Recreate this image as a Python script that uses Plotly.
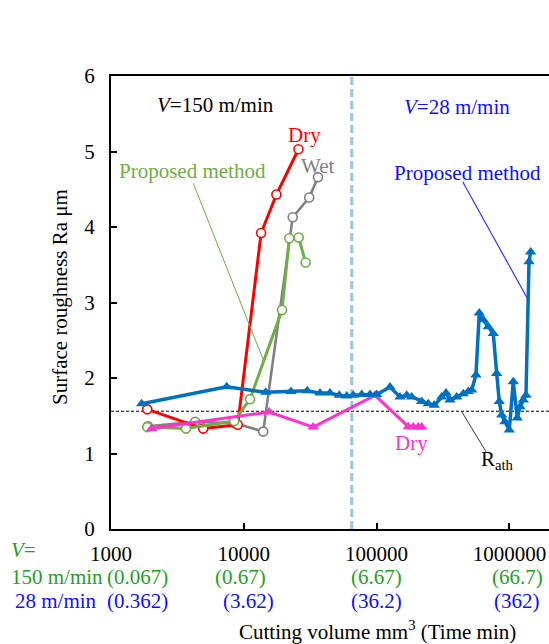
import plotly.graph_objects as go

# ---------------- data ----------------
# V = 150 m/min
dry150_vol = [1875, 4950, 9000, 13500, 17600, 25800]
dry150_ra = [1.585, 1.33, 1.38, 3.92, 4.43, 5.03]

wet150_vol = [1900, 4300, 8600, 14000, 23350, 31100, 36200]
wet150_ra = [1.36, 1.42, 1.40, 1.29, 4.13, 4.39, 4.66]

prop150_vol = [1876, 3670, 8470, 11140, 19400, 22000, 25900, 29200]
prop150_ra = [1.35, 1.33, 1.43, 1.72, 2.90, 3.85, 3.86, 3.53]

# V = 28 m/min
dry28_vol = [2023, 15560, 33300, 97300, 173400, 188700, 205900, 218600]
dry28_ra = [1.33, 1.55, 1.35, 1.77, 1.355, 1.35, 1.35, 1.35]

prop28_vol = [1702, 7430, 14620, 22650, 30060, 37500, 44570, 52360, 59550, 66780,
              77270, 89200, 100100, 126200, 150000, 168500, 183700, 218600, 245000,
              271800, 309000, 333000, 357000, 401000, 449500, 490000, 520000,
              560000, 593000, 635000, 693000, 756000, 802000, 839000, 875000,
              926000, 998000, 1069000, 1146000, 1202000, 1272000, 1333000,
              1405000, 1446000]
prop28_ra = [1.66, 1.885, 1.81, 1.82, 1.83, 1.80, 1.80, 1.77, 1.76, 1.77,
             1.78, 1.78, 1.78, 1.88, 1.75, 1.77, 1.75, 1.69, 1.66,
             1.64, 1.75, 1.80, 1.71, 1.75, 1.79, 1.82, 1.84,
             2.04, 2.86, 2.77, 2.68, 2.59, 2.06, 1.69, 1.51,
             1.42, 1.31, 1.95, 1.47, 1.62, 1.71, 1.77,
             3.54, 3.67]

rath_value = 1.56          # threshold roughness R_ath
boundary_volume = 65000    # separation between the two cutting-speed regions

x_tick_vals = [1000, 10000, 100000, 1000000]
x_tick_text = ["1000", "10000", "100000", "1000000"]
time150_labels = ["(0.067)", "(0.67)", "(6.67)", "(66.7)"]
time28_labels = ["(0.362)", "(3.62)", "(36.2)", "(362)"]
y_tick_vals = [0, 1, 2, 3, 4, 5, 6]

# ---------------- styling ----------------
FONT = "Liberation Serif"
W, H = 549, 644
L, R, T, B = 111, 0, 76, 115
PW, PH = W - L - R, H - T - B

RED = "#FF0000"
GRAY = "#808080"
GREEN = "#70AD47"
PINK = "#FF33CC"
BLUE = "#0070C0"
TXT_BLUE = "#1010FF"
TXT_GREEN = "#1FA01F"


def px(xp):
    return (xp - L) / PW


def py(yp):
    return (H - B - yp) / PH


fig = go.Figure()

def open_circle(c):
    return dict(symbol="circle", size=9, color="white", line=dict(color=c, width=1.6))

fig.add_trace(go.Scatter(x=wet150_vol, y=wet150_ra, mode="lines+markers",
                         line=dict(color=GRAY, width=2.6), marker=open_circle(GRAY)))
fig.add_trace(go.Scatter(x=dry150_vol, y=dry150_ra, mode="lines+markers",
                         line=dict(color=RED, width=3), marker=open_circle(RED)))
fig.add_trace(go.Scatter(x=prop150_vol, y=prop150_ra, mode="lines+markers",
                         line=dict(color=GREEN, width=3), marker=open_circle(GREEN)))
fig.add_trace(go.Scatter(x=dry28_vol, y=dry28_ra, mode="lines+markers",
                         line=dict(color=PINK, width=3),
                         marker=dict(symbol="triangle-up", size=10, color=PINK)))
fig.add_trace(go.Scatter(x=prop28_vol, y=prop28_ra, mode="lines+markers",
                         line=dict(color=BLUE, width=3.5),
                         marker=dict(symbol="triangle-up", size=10, color=BLUE)))

# threshold line and boundary line
fig.add_shape(type="line", xref="paper", yref="y", x0=0, x1=1, y0=rath_value, y1=rath_value,
              line=dict(color="black", width=1, dash="3px,2px"), layer="below")
fig.add_shape(type="line", xref="x", yref="paper", x0=boundary_volume, x1=boundary_volume,
              y0=0, y1=1, line=dict(color="#9DC3E6", width=3, dash="8px,4px"), layer="below")

# leader lines
def leader(x0, y0, x1, y1, color, width=1):
    fig.add_shape(type="line", xref="paper", yref="paper",
                  x0=px(x0), y0=py(y0), x1=px(x1), y1=py(y1),
                  line=dict(color=color, width=width))

leader(193.3, 183.3, 263.3, 360, GREEN, 1)
leader(462.7, 181.7, 527.3, 298.3, "#3333FF", 1.2)
leader(461.7, 411.7, 486, 451.7, "#404040", 1)

annots = []

def text(t, x, y, color="black", size=21, anchor="center", angle=0):
    annots.append(dict(text=t, x=px(x), y=py(y), xref="paper", yref="paper",
                       xanchor=anchor, yanchor="middle", showarrow=False, textangle=angle,
                       font=dict(family=FONT, size=size, color=color)))

text("<i>V</i>=150 m/min", 215, 105)
text("Dry", 304, 135, RED)
text("Wet", 317, 166, GRAY)
text("Proposed method", 192.5, 171, GREEN)
text("<i>V</i>=28 m/min", 456.7, 106.7, TXT_BLUE)
text("Proposed method", 467, 173.3, TXT_BLUE)
text("Dry", 411, 443, PINK)
text("R<sub>ath</sub>", 497, 460)

text("<i>V</i>=", 23, 550, TXT_GREEN)
text("150 m/min", 57, 577, TXT_GREEN)
text("28 m/min", 56, 601, TXT_BLUE)
for lab, xc in zip(time150_labels, [137, 240.7, 376, 517]):
    text(lab, xc, 577, TXT_GREEN)
for lab, xc in zip(time28_labels, [137, 248, 376, 517]):
    text(lab, xc, 601, TXT_BLUE)

text("Cutting volume mm<sup>3</sup> (Time min)", 377, 630)
text("Surface roughness Ra μm", 60, 297, angle=-90)

fig.update_layout(
    width=W, height=H,
    margin=dict(l=L, r=R, t=T, b=B, pad=0),
    paper_bgcolor="white", plot_bgcolor="white",
    showlegend=False,
    font=dict(family=FONT, size=21, color="black"),
    annotations=annots,
    xaxis=dict(type="log", range=[3, 3 + PW / 132.8],
               tickvals=x_tick_vals, ticktext=x_tick_text,
               ticks="inside", ticklen=6, tickwidth=2, tickcolor="black",
               showline=True, linecolor="black", linewidth=2, mirror=True,
               showgrid=False, zeroline=False, ticklabelstandoff=5,
               tickfont=dict(family=FONT, size=21, color="black")),
    yaxis=dict(range=[0, 6], tickvals=y_tick_vals,
               ticks="inside", ticklen=6, tickwidth=2, tickcolor="black",
               showline=True, linecolor="black", linewidth=2,
               showgrid=False, zeroline=False, ticklabelstandoff=10,
               tickfont=dict(family=FONT, size=21, color="black")),
)

fig.write_html("out.html", config={"displayModeBar": False},
               post_script="document.body.style.margin='0';document.body.style.overflow='hidden';")
